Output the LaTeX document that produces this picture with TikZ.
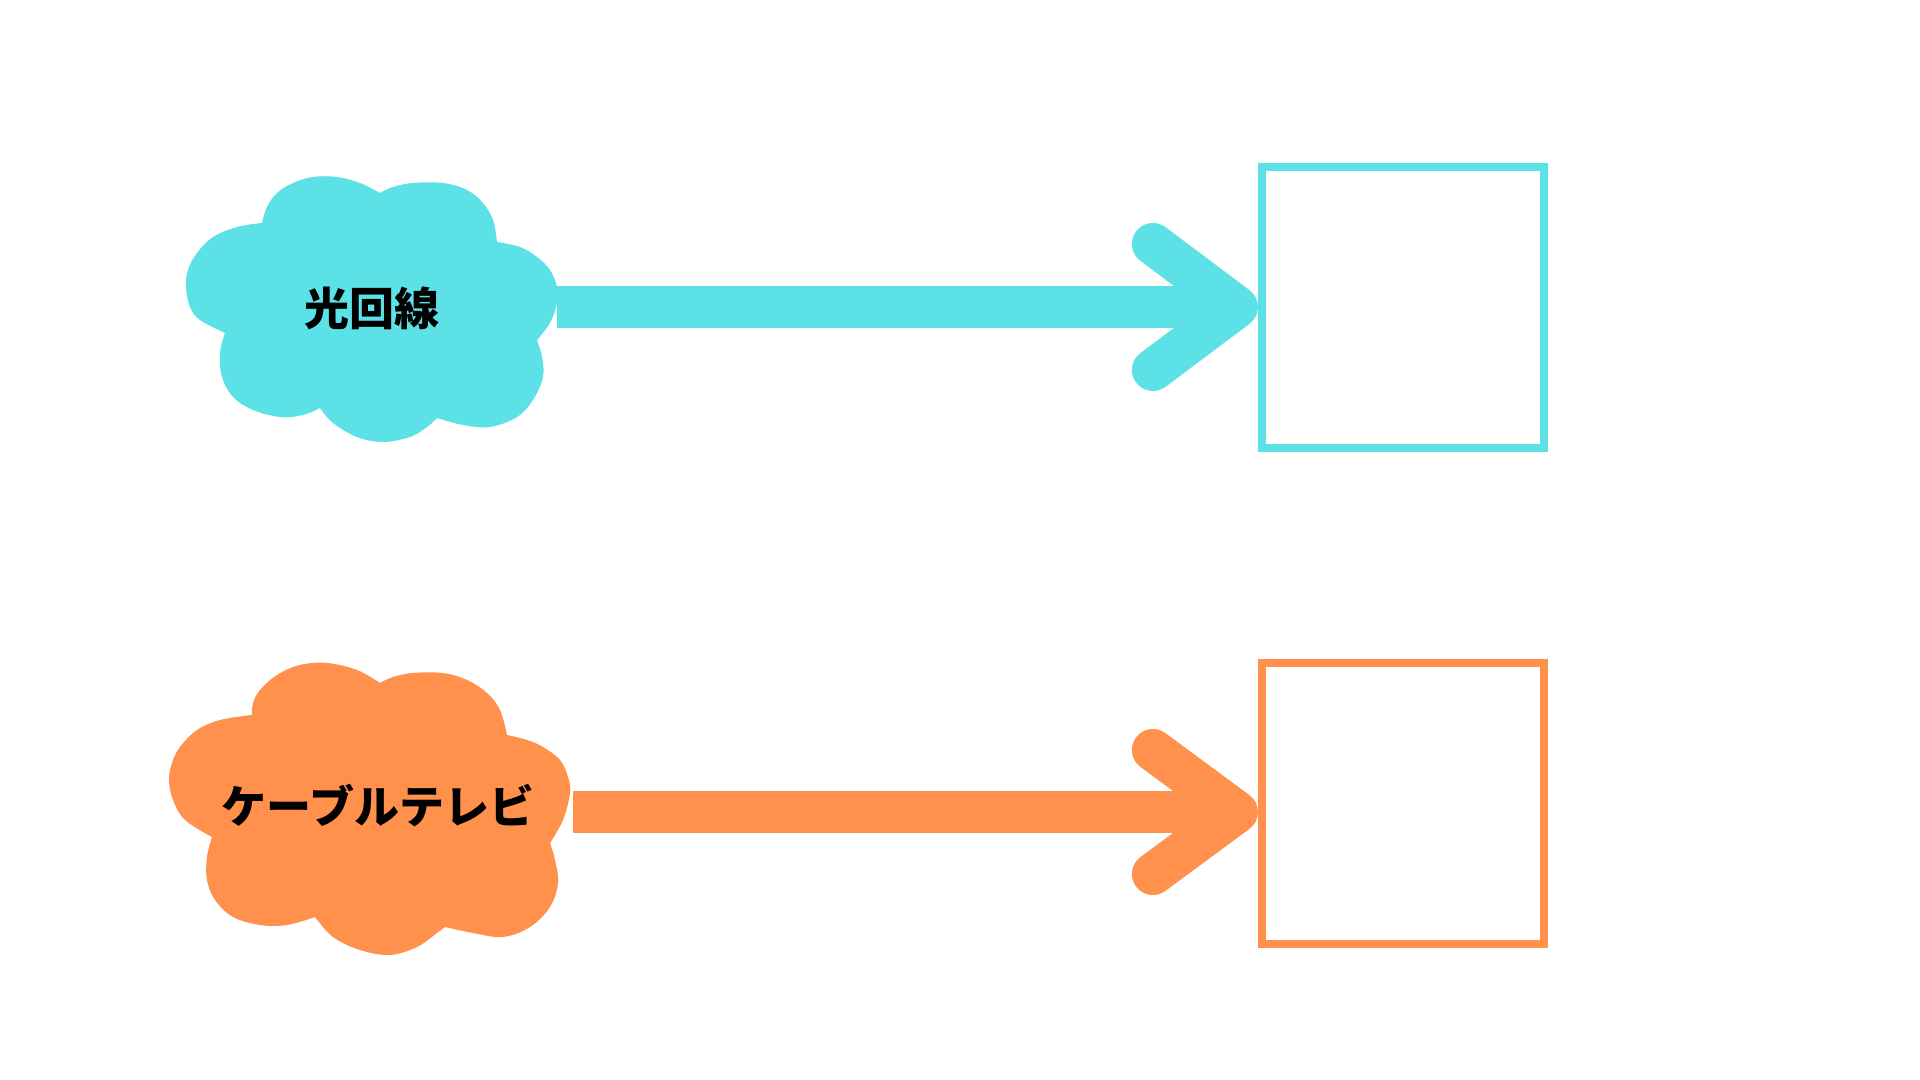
\documentclass[tikz,border=0pt]{standalone}
\usepackage{fontspec}
\newfontfamily\cjk{Noto Sans CJK JP}
\usetikzlibrary{calc}
\definecolor{cyanc}{HTML}{5CE1E6}
\definecolor{orangec}{HTML}{FF914D}
\begin{document}
\begin{tikzpicture}[x=0.01cm,y=-0.01cm,
  cloudtext/.style={font=\cjk\bfseries\fontsize{12.8pt}{15pt}\selectfont, inner sep=0pt},
  tvbox/.style={draw=#1, line width=0.08cm, minimum width=2.82cm, minimum height=2.81cm, outer sep=0pt, inner sep=0pt},
  shaft/.style={draw=#1, line width=0.42cm},
  head/.style={draw=#1, line width=0.42cm, line cap=round, line join=round},
  bump/.style={smooth, tension=0.6}]
\fill[white] (0,0) rectangle (1920,1080);
\useasboundingbox (0,0) rectangle (1920,1080);
% top cloud
\fill[cyanc] plot[bump] coordinates {(380,193) (360,183) (337,177) (313,177) (293,183) (277,193) (267,207) (262,223)}
 -- plot[bump] coordinates {(262,223) (237,227) (213,237) (197,253) (188,270) (186,287) (190,307) (200,320) (225,333)}
 -- plot[bump] coordinates {(225,333) (220,353) (222,377) (233,397) (253,410) (280,417) (303,415) (320,408)}
 -- plot[bump] coordinates {(320,408) (333,423) (357,437) (383,442) (410,437) (427,427) (437,418)}
 -- plot[bump] coordinates {(437,418) (463,425) (490,427) (517,417) (533,400) (543,377) (542,357) (537,340)}
 -- plot[bump] coordinates {(537,340) (550,323) (557,303) (557,287) (550,270) (537,257) (520,247) (497,242)}
 -- plot[bump] coordinates {(497,242) (493,220) (483,203) (467,190) (443,183) (413,183) (393,187) (380,193)}
 -- cycle;
% bottom cloud
\fill[orangec] plot[bump] coordinates {(380,683) (357,670) (327,663) (300,665) (277,675) (260,690) (253,703) (252,715)}
 -- plot[bump] coordinates {(252,715) (220,720) (197,730) (180,747) (172,763) (169,780) (173,800) (185,820) (212,837)}
 -- plot[bump] coordinates {(212,837) (207,857) (207,880) (215,900) (233,917) (260,925) (287,925) (315,917)}
 -- plot[bump] coordinates {(315,917) (333,937) (360,950) (390,955) (417,947) (437,933) (445,927)}
 -- plot[bump] coordinates {(445,927) (473,933) (503,937) (530,927) (550,907) (558,883) (555,860) (550,843)}
 -- plot[bump] coordinates {(550,843) (563,820) (570,793) (568,777) (560,760) (543,747) (527,740) (507,735)}
 -- plot[bump] coordinates {(507,735) (500,710) (487,693) (467,680) (443,673) (413,673) (393,677) (380,683)}
 -- cycle;
\node[cloudtext] (c1) at (372,308) {光回線};
\node[cloudtext] (c2) at (378,806) {ケーブルテレビ};
\node[tvbox=cyanc] (b1) at (1403,307.5) {};
\node[tvbox=orangec] (b2) at (1403,803.5) {};
\coordinate (s1) at (557,307);
\coordinate (s2) at (573,812);
\coordinate (t1) at ($(s1 -| b1.west)+(-25,0)$);
\coordinate (t2) at ($(s2 -| b2.west)+(-25,0)$);
\draw[shaft=cyanc] (s1) -- (t1);
\draw[head=cyanc] ($(t1)+(-84,-63)$) -- (t1) -- ($(t1)+(-84,63)$);
\draw[shaft=orangec] (s2) -- (t2);
\draw[head=orangec] ($(t2)+(-84,-62)$) -- (t2) -- ($(t2)+(-84,62)$);
\end{tikzpicture}
\end{document}
